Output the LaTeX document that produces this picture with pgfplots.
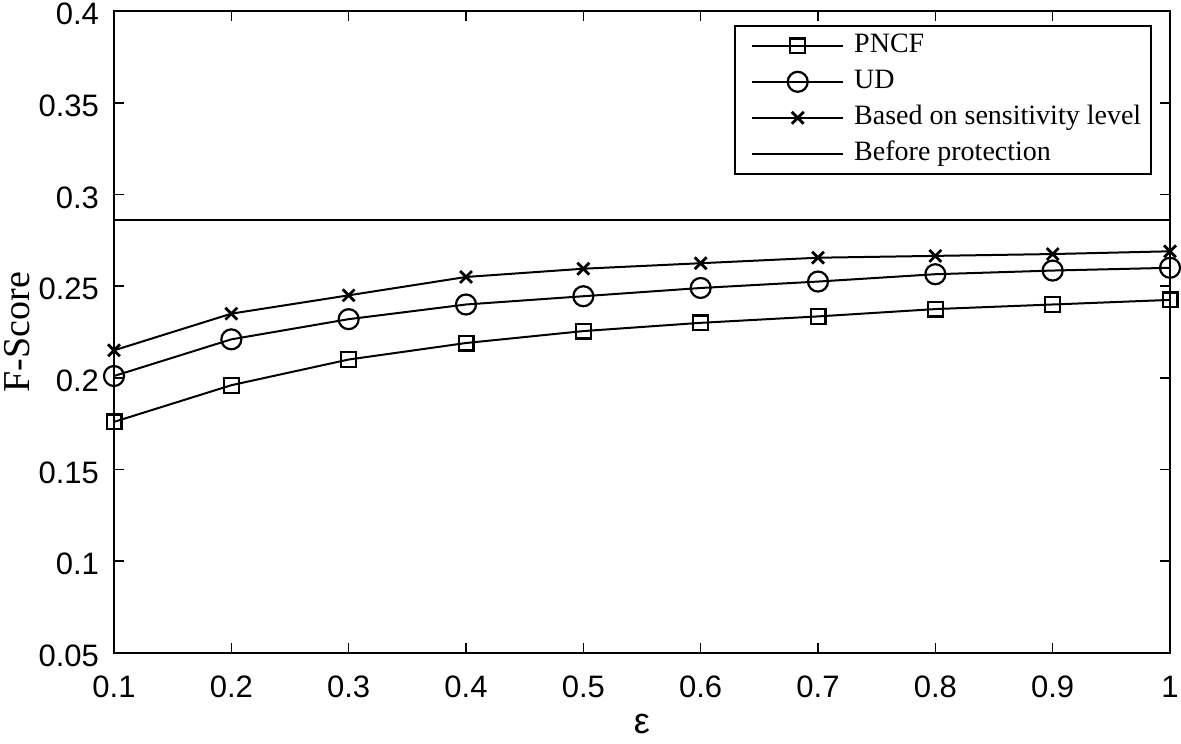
\documentclass[border=0pt]{standalone}
\usepackage{fontspec}
\setmainfont{Liberation Serif}
\setsansfont{Liberation Sans}
\usepackage{pgfplots}
\pgfplotsset{compat=1.18}

\pgfplotstableread{
eps   pncf   ud     sens
0.1   0.176  0.201  0.215
0.2   0.196  0.221  0.235
0.3   0.210  0.232  0.245
0.4   0.219  0.240  0.255
0.5   0.2255 0.2445 0.2595
0.6   0.230  0.249  0.2625
0.7   0.2335 0.2525 0.2655
0.8   0.2375 0.2565 0.2665
0.9   0.240  0.2585 0.2675
1.0   0.2425 0.260  0.269
}\fscore

\begin{document}
\begin{tikzpicture}
\begin{axis}[
  name=ax,
  scale only axis,
  width=528pt,
  height=321pt,
  xmin=0.1, xmax=1,
  ymin=0.05, ymax=0.4,
  xtick={0.1,0.2,...,1.0},
  xticklabels={0.1,0.2,0.3,0.4,0.5,0.6,0.7,0.8,0.9,1},
  ytick={0.05,0.1,...,0.4},
  yticklabels={0.05,0.1,0.15,0.2,0.25,0.3,0.35,0.4},
  tick align=inside,
  major tick length=5pt,
  axis line style={line width=0.9pt},
  every tick/.style={line width=0.8pt,black},
  tick label style={font=\sffamily\fontsize{15.5}{18}\selectfont},
  xticklabel style={yshift=-8pt},
  yticklabel style={xshift=-4pt, yshift=-1.5pt},
  /pgf/number format/assume math mode=true,
  xlabel={\sffamily\fontsize{18}{21}\selectfont ε},
  ylabel={\fontsize{19}{22}\selectfont F-Score},
  xlabel style={yshift=-1pt},
  ylabel style={yshift=-2.5pt},
  legend cell align=left,
  legend style={at={(1,1)}, anchor=north east, xshift=-9pt, yshift=-7pt,
    draw=black, line width=0.8pt, font=\fontsize{14}{16}\selectfont,
    inner xsep=4pt, inner ysep=2pt, row sep=2pt,
    nodes={inner sep=1pt, text height=10.5pt, text depth=3.5pt}},
  legend image code/.code={
    \draw[#1, mark repeat=2, mark phase=2] plot coordinates {(0pt,0pt) (22.75pt,0pt) (45.5pt,0pt)};
    \path (-4pt,0pt) (49.5pt,0pt);
  },
]
\addplot[black, line width=1pt, mark=square, mark size=3.7pt, mark options={line width=1.1pt}] table[x=eps,y=pncf] {\fscore};
\addlegendentry{PNCF}
\addplot[black, line width=1pt, mark=o, mark size=5pt, mark options={line width=1.1pt}] table[x=eps,y=ud] {\fscore};
\addlegendentry{UD}
\addplot[black, line width=1pt, mark=x, mark size=4.2pt, mark options={line width=1.4pt}] table[x=eps,y=sens] {\fscore};
\addlegendentry{Based on sensitivity level}
\addplot[black, line width=1pt] coordinates {(0.1,0.286) (1,0.286)};
\addlegendentry{Before protection}
\end{axis}
\pgfresetboundingbox
\path[use as bounding box] ([xshift=-57pt,yshift=-45pt]ax.south west) rectangle ([xshift=5.5pt,yshift=5.5pt]ax.north east);
\end{tikzpicture}
\end{document}
